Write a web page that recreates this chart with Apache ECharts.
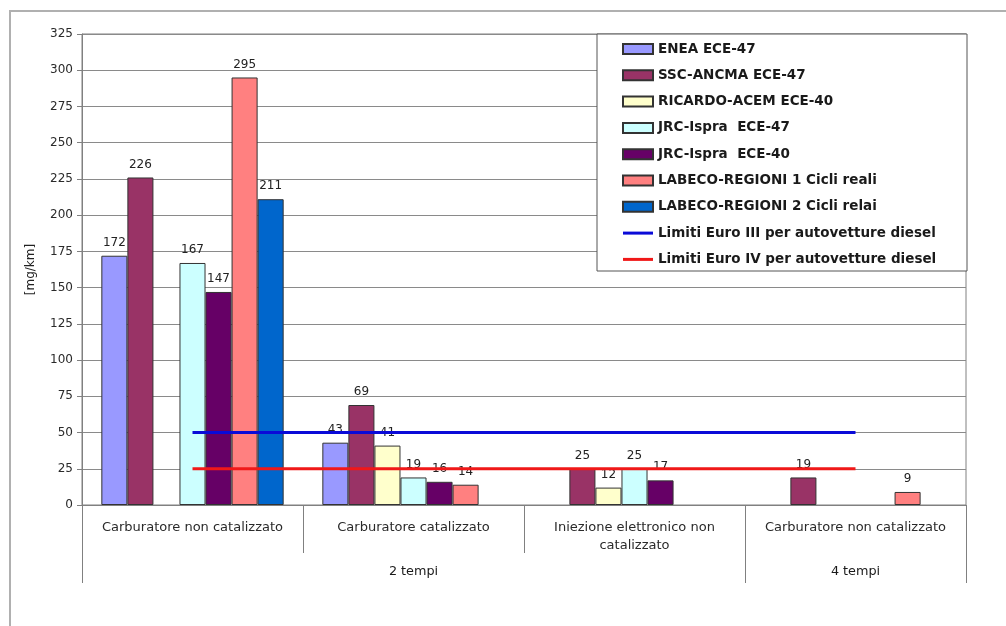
<!DOCTYPE html>
<html>
<head>
<meta charset="utf-8">
<script src="https://cdn.jsdelivr.net/npm/echarts@6/dist/echarts.min.js"></script>
<style>
  html, body { margin: 0; padding: 0; background: #ffffff; }
  #chart { width: 1006px; height: 626px; }
</style>
</head>
<body>
<div id="chart"></div>
<script>
// Emission categories (first level) and engine type groups (second level)
const categories = [
  'Carburatore non catalizzato',
  'Carburatore catalizzato',
  'Iniezione elettronico non\ncatalizzato',
  'Carburatore non catalizzato'
];
const groupLabels = ['', '2 tempi', '', '4 tempi'];

// Measured values [mg/km] per study
const enea47      = [172, 43, null, null];
const sscAncma47  = [226, 69, 25, 19];
const ricardo40   = [null, 41, 12, null];
const jrcIspra47  = [167, 19, 25, null];
const jrcIspra40  = [147, 16, 17, null];
const labeco1     = [295, 14, null, 9];
const labeco2     = [211, null, null, null];

// Diesel passenger-car limits
const euroIII = [50, 50, 50, 50];
const euroIV  = [25, 25, 25, 25];

const yTicks = { min: 0, max: 325, interval: 25 };

const FONT = '"DejaVu Sans", Verdana, sans-serif';

const barDefs = [
  { name: 'ENEA ECE-47', data: enea47, color: '#9999ff' },
  { name: 'SSC-ANCMA ECE-47', data: sscAncma47, color: '#993366' },
  { name: 'RICARDO-ACEM ECE-40', data: ricardo40, color: '#ffffcc' },
  { name: 'JRC-Ispra  ECE-47', data: jrcIspra47, color: '#ccffff' },
  { name: 'JRC-Ispra  ECE-40', data: jrcIspra40, color: '#660066' },
  { name: 'LABECO-REGIONI 1 Cicli reali', data: labeco1, color: '#ff8080' },
  { name: 'LABECO-REGIONI 2 Cicli relai', data: labeco2, color: '#0066cc' }
];
const lineDefs = [
  { name: 'Limiti Euro III per autovetture diesel', data: euroIII, color: '#0a0ad8' },
  { name: 'Limiti Euro IV per autovetture diesel', data: euroIV, color: '#f01818' }
];

const series = barDefs.map(d => ({
  name: d.name,
  type: 'bar',
  data: d.data,
  barGap: '0%',
  barCategoryGap: '17.5%',
  itemStyle: { color: d.color, borderColor: '#333', borderWidth: 1 },
  label: {
    show: true, position: 'top', distance: 7,
    fontFamily: FONT, fontSize: 12, color: '#222'
  }
})).concat(lineDefs.map(d => ({
  name: d.name,
  type: 'line',
  data: d.data,
  symbol: 'none',
  z: 5,
  lineStyle: { color: d.color, width: 3 },
  itemStyle: { color: d.color }
})));

const legendData = barDefs.map(d => ({ name: d.name, icon: 'rect' }))
  .concat(lineDefs.map(d => ({ name: d.name, icon: 'path://M0,0h30v3h-30z' })));

const chart = echarts.init(document.getElementById('chart'), null, { renderer: 'canvas' });
chart.setOption({
  animation: false,
  backgroundColor: '#ffffff',
  textStyle: { fontFamily: FONT },
  grid: {
    left: 82, right: 40, top: 34, bottom: 121,
    show: true, borderColor: '#808080', borderWidth: 1, backgroundColor: 'transparent'
  },
  legend: {
    orient: 'vertical',
    left: 617, top: 37,
    itemWidth: 30, itemHeight: 10, itemGap: 12.3,
    data: legendData,
    textStyle: { fontFamily: FONT, fontSize: 13.5, fontWeight: 'bold', color: '#1a1a1a', lineHeight: 14 }
  },
  graphic: {
    elements: [
      {
        type: 'rect', z: 3,
        shape: { x: 597, y: 34, width: 370, height: 237 },
        style: { fill: '#ffffff', stroke: '#555555', lineWidth: 1 }
      },
      {
        type: 'rect', z: 0, silent: true,
        shape: { x: 10, y: 11, width: 1100, height: 700 },
        style: { fill: 'none', stroke: '#b0b0b0', lineWidth: 2 }
      }
    ]
  },
  xAxis: [
    {
      type: 'category',
      data: categories,
      position: 'bottom',
      axisLine: { show: true, lineStyle: { color: '#808080', width: 1 } },
      axisTick: { show: true, length: 48, interval: 0, lineStyle: { color: '#808080', width: 1 } },
      axisLabel: {
        interval: 0, margin: 14, fontFamily: FONT, fontSize: 13, color: '#2a2a2a', lineHeight: 18
      }
    },
    {
      type: 'category',
      data: groupLabels,
      position: 'bottom',
      axisLine: { show: false },
      axisTick: {
        show: true, length: 78,
        interval: (i) => i === 0 || i === 3,
        lineStyle: { color: '#808080', width: 1 }
      },
      axisLabel: {
        interval: (i, v) => v !== '',
        margin: 60, fontFamily: FONT, fontSize: 12.8, color: '#1a1a1a'
      }
    }
  ],
  yAxis: {
    type: 'value',
    min: yTicks.min, max: yTicks.max, interval: yTicks.interval,
    name: '[mg/km]',
    nameLocation: 'middle',
    nameRotate: 90,
    nameGap: 45,
    nameTextStyle: { fontFamily: FONT, fontSize: 12, color: '#222' },
    axisLine: { show: true, lineStyle: { color: '#808080', width: 1 } },
    axisTick: { show: true, length: 5, lineStyle: { color: '#808080' } },
    axisLabel: { fontFamily: FONT, fontSize: 12, color: '#2a2a2a', margin: 9 },
    splitLine: { show: true, lineStyle: { color: '#8a8a8a', width: 1 } }
  },
  series: series
});
</script>
</body>
</html>
